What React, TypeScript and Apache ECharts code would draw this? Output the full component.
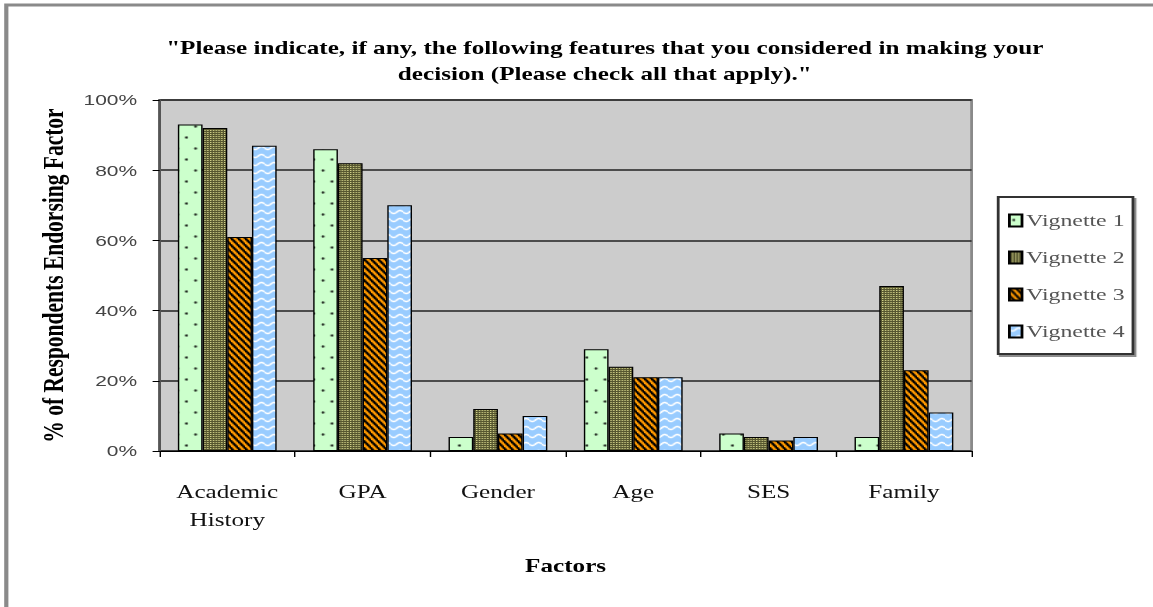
import React, { useEffect, useRef } from 'react';
import * as echarts from 'echarts';

const categories = ['Academic\nHistory', 'GPA', 'Gender', 'Age', 'SES', 'Family'];
const seriesNames = ['Vignette 1', 'Vignette 2', 'Vignette 3', 'Vignette 4'];
const vignette1 = [93, 86, 4, 29, 5, 4];
const vignette2 = [92, 82, 12, 24, 4, 47];
const vignette3 = [61, 55, 5, 21, 3, 23];
const vignette4 = [87, 70, 10, 21, 4, 11];
const yTicks = [0, 20, 40, 60, 80, 100];

const titleText =
  '"Please indicate, if any, the following features that you considered in making your\ndecision (Please check all that apply)."';

// The reference picture is stretched horizontally; draw at a narrower width and stretch.
const STRETCH = 1.4;
const PAGE_W = 1153;
const PAGE_H = 607;
const CHART_W = Math.round(PAGE_W / STRETCH);

function makePattern(w: number, h: number, draw: (ctx: CanvasRenderingContext2D) => void) {
  const c = document.createElement('canvas');
  c.width = w;
  c.height = h;
  const ctx = c.getContext('2d') as CanvasRenderingContext2D;
  draw(ctx);
  return { image: c, repeat: 'repeat', imageWidth: w, imageHeight: h };
}

export default function App() {
  const ref = useRef<HTMLDivElement>(null);
  useEffect(() => {
    if (!ref.current) return;
    const chart = echarts.init(ref.current, undefined, { renderer: 'svg' });

    const p1 = makePattern(13, 22, (ctx) => {
      ctx.fillStyle = '#ccffcc';
      ctx.fillRect(0, 0, 13, 22);
      ctx.fillStyle = '#000';
      ctx.beginPath();
      ctx.ellipse(3.2, 5.5, 0.85, 1.2, 0, 0, Math.PI * 2);
      ctx.fill();
      ctx.beginPath();
      ctx.ellipse(9.7, 16.5, 0.85, 1.2, 0, 0, Math.PI * 2);
      ctx.fill();
    });
    const p2 = makePattern(2, 2, (ctx) => {
      ctx.fillStyle = '#56562f';
      ctx.fillRect(0, 0, 2, 2);
      ctx.fillStyle = '#d2d28a';
      ctx.fillRect(0, 0, 1, 1);
    });
    const p3 = makePattern(5, 7, (ctx) => {
      ctx.fillStyle = '#ff9900';
      ctx.fillRect(0, 0, 5, 7);
      ctx.strokeStyle = '#000';
      ctx.lineWidth = 1.9;
      for (let k = -1; k <= 1; k++) {
        ctx.beginPath();
        ctx.moveTo(-1, 7 * k - 1.4);
        ctx.lineTo(6, 7 * k + 8.4);
        ctx.stroke();
      }
    });
    const p4 = makePattern(9, 8, (ctx) => {
      ctx.fillStyle = '#99ccff';
      ctx.fillRect(0, 0, 9, 8);
      ctx.strokeStyle = '#ffffff';
      ctx.lineWidth = 1.5;
      ctx.beginPath();
      for (let x = 0; x <= 9; x += 0.25) {
        const y = 4 + 1.6 * Math.sin((2 * Math.PI * x) / 9);
        if (x === 0) ctx.moveTo(x, y);
        else ctx.lineTo(x, y);
      }
      ctx.stroke();
    });
    const patterns = [p1, p2, p3, p4];
    const data = [vignette1, vignette2, vignette3, vignette4];

    chart.setOption({
      animation: false,
      backgroundColor: '#ffffff',
      graphic: [
        {
          type: 'rect',
          shape: { x: 4.5, y: 5, width: 1000, height: 800 },
          style: { fill: 'none', stroke: '#8a8a8a', lineWidth: 3 },
          silent: true,
        },
        {
          type: 'text',
          x: 432,
          y: 35,
          style: {
            text: titleText,
            textAlign: 'center',
            fontFamily: 'Liberation Serif',
            fontWeight: 'bold',
            fontSize: 18,
            lineHeight: 26,
            fill: '#000',
          },
        },
      ],
      legend: {
        orient: 'vertical',
        left: 713,
        top: 197,
        data: seriesNames,
        backgroundColor: '#ffffff',
        borderColor: '#333',
        borderWidth: 2,
        shadowColor: 'rgba(0,0,0,0.45)',
        shadowOffsetX: 1.5,
        shadowOffsetY: 2,
        shadowBlur: 1,
        padding: [15, 6, 14, 7],
        itemWidth: 9,
        itemHeight: 12,
        itemGap: 20,
        icon: 'rect',
        textStyle: {
          fontFamily: 'Liberation Serif',
          fontSize: 17,
          color: '#555',
          padding: [0, 0, 0, -2],
        },
      },
      grid: {
        left: 114,
        right: CHART_W - 694,
        top: 100,
        bottom: 156,
        show: true,
        backgroundColor: '#cccccc',
        borderColor: '#8a8a8a',
        borderWidth: 2,
      },
      xAxis: {
        type: 'category',
        data: categories,
        name: 'Factors',
        nameLocation: 'middle',
        nameGap: 106,
        nameTextStyle: {
          fontFamily: 'Liberation Serif',
          fontWeight: 'bold',
          fontSize: 18,
          color: '#000',
        },
        axisLine: { show: true, lineStyle: { color: '#000', width: 1 } },
        axisTick: { show: true, length: 6, lineStyle: { color: '#000' } },
        axisLabel: {
          fontFamily: 'Liberation Serif',
          fontSize: 18,
          color: '#111',
          lineHeight: 28,
          margin: 27,
        },
      },
      yAxis: {
        type: 'value',
        min: 0,
        max: 100,
        interval: 20,
        name: '% of Respondents Endorsing Factor',
        nameLocation: 'middle',
        nameGap: 64,
        nameTextStyle: {
          fontFamily: 'Liberation Serif',
          fontWeight: 'bold',
          fontSize: 21.5,
          color: '#000',
        },
        axisLine: { show: true, lineStyle: { color: '#555', width: 2 } },
        axisTick: { show: true, length: 5, lineStyle: { color: '#000' } },
        axisLabel: {
          fontFamily: 'Liberation Sans',
          fontSize: 15,
          color: '#444',
          margin: 16,
          formatter: (v: number) => (yTicks.includes(v) ? v + '%' : ''),
        },
        splitLine: { show: true, lineStyle: { color: '#222', width: 1.5 } },
      },
      series: seriesNames.map((name, i) => ({
        name,
        type: 'bar',
        data: data[i],
        barGap: '0%',
        barCategoryGap: '27%',
        itemStyle: {
          color: patterns[i],
          borderColor: '#000',
          borderWidth: 1,
        },
      })),
    });

    return () => chart.dispose();
  }, []);

  return (
    <div
      style={{
        position: 'absolute',
        left: 0,
        top: 0,
        width: PAGE_W,
        height: PAGE_H,
        overflow: 'hidden',
        background: '#fff',
      }}
    >
      <div
        ref={ref}
        style={{
          width: CHART_W,
          height: PAGE_H,
          transform: `scale(${STRETCH}, 1)`,
          transformOrigin: '0 0',
        }}
      />
    </div>
  );
}
